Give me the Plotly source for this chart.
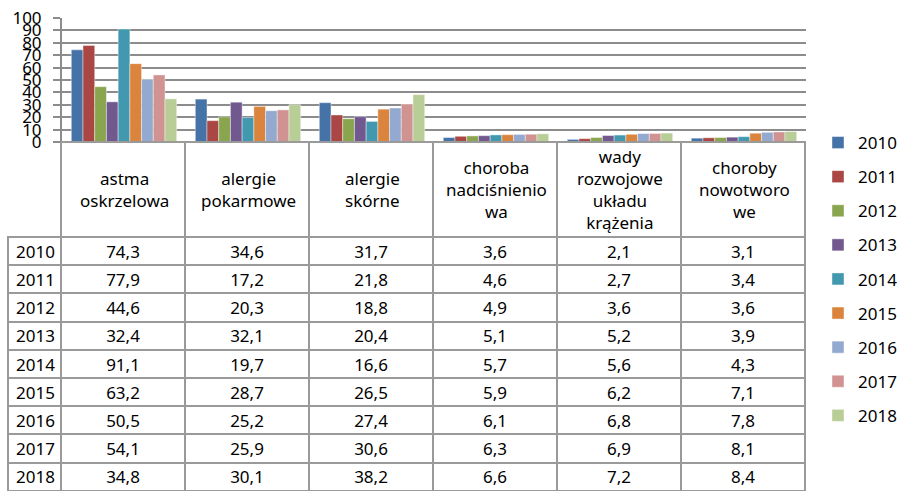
import plotly.graph_objects as go

W, H = 919, 491

categories = ["astma<br>oskrzelowa", "alergie<br>pokarmowe", "alergie<br>skórne",
              "choroba<br>nadciśnienio<br>wa", "wady<br>rozwojowe<br>układu<br>krążenia",
              "choroby<br>nowotworo<br>we"]
years = ["2010", "2011", "2012", "2013", "2014", "2015", "2016", "2017", "2018"]

y2010 = [74.3, 34.6, 31.7, 3.6, 2.1, 3.1]
y2011 = [77.9, 17.2, 21.8, 4.6, 2.7, 3.4]
y2012 = [44.6, 20.3, 18.8, 4.9, 3.6, 3.6]
y2013 = [32.4, 32.1, 20.4, 5.1, 5.2, 3.9]
y2014 = [91.1, 19.7, 16.6, 5.7, 5.6, 4.3]
y2015 = [63.2, 28.7, 26.5, 5.9, 6.2, 7.1]
y2016 = [50.5, 25.2, 27.4, 6.1, 6.8, 7.8]
y2017 = [54.1, 25.9, 30.6, 6.3, 6.9, 8.1]
y2018 = [34.8, 30.1, 38.2, 6.6, 7.2, 8.4]
series = [y2010, y2011, y2012, y2013, y2014, y2015, y2016, y2017, y2018]

colors = ["#4572A7", "#AA4643", "#89A54E", "#71588F", "#4198AF",
          "#DB843D", "#93A9CF", "#D19392", "#B9CD96"]

FONT = "Noto Sans"
GRID = "#8c8c8c"
LINE = "#9a9a9a"

def py(px):
    return 1 - px / H

def pxx(px):
    return px / W

fig = go.Figure()

for yr, vals, col in zip(years, series, colors):
    fig.add_trace(go.Bar(
        x=categories, y=vals, name=yr, legendgroup=yr,
        marker=dict(color=col, line=dict(color="rgba(255,255,255,0.7)", width=0.6)),
    ))

def fmt(v):
    return f"{v:.1f}".replace(".", ",")

cols = [years] + [[fmt(s[c]) for s in series] for c in range(len(categories))]

fig.add_trace(go.Table(
    domain=dict(x=[pxx(8), pxx(806)], y=[0, py(142)]),
    columnwidth=[53] + [124] * 6,
    header=dict(values=[""] * 7, height=95,
                line=dict(color=["rgba(0,0,0,0)"] + [LINE] * 6, width=2),
                fill=dict(color=["rgba(0,0,0,0)"] + ["white"] * 6)),
    cells=dict(values=cols, height=28.2,
               align=["left"] + ["center"] * 6,
               line=dict(color=LINE, width=2),
               fill=dict(color="white"),
               font=dict(family=FONT, size=17, color="black")),
))

for cat in categories:
    fig.add_annotation(x=cat, xref="x", y=py(190), yref="paper",
                       text=cat, showarrow=False, yanchor="middle",
                       font=dict(family=FONT, size=17, color="black"))

fig.update_layout(
    width=W, height=H, autosize=False,
    margin=dict(l=0, r=0, t=0, b=0),
    paper_bgcolor="white", plot_bgcolor="white",
    barmode="group", bargap=0.15, bargroupgap=0,
    font=dict(family=FONT, size=17, color="black"),
    showlegend=True,
    legend=dict(x=pxx(818), xanchor="left", y=py(125), yanchor="top",
                traceorder="grouped", tracegroupgap=9,
                font=dict(family=FONT, size=17, color="black"),
                bgcolor="rgba(0,0,0,0)"),
    xaxis=dict(domain=[pxx(62), pxx(806)], showticklabels=False,
               showline=True, linecolor=GRID, linewidth=2, ticks="",
               showgrid=False, automargin=False),
    yaxis=dict(domain=[py(142), py(18)], range=[0, 100], dtick=10,
               showgrid=True, gridcolor=GRID, gridwidth=1.5,
               zeroline=False, showline=True, linecolor=GRID, linewidth=2,
               ticks="outside", ticklen=7, tickcolor=GRID, tickwidth=1.5,
               ticklabelstandoff=8, automargin=False,
               tickfont=dict(family=FONT, size=17, color="black")),
)

fig.write_html("out.html", config={"displayModeBar": False},
               post_script="document.body.style.margin='0';document.body.style.overflow='hidden';")
